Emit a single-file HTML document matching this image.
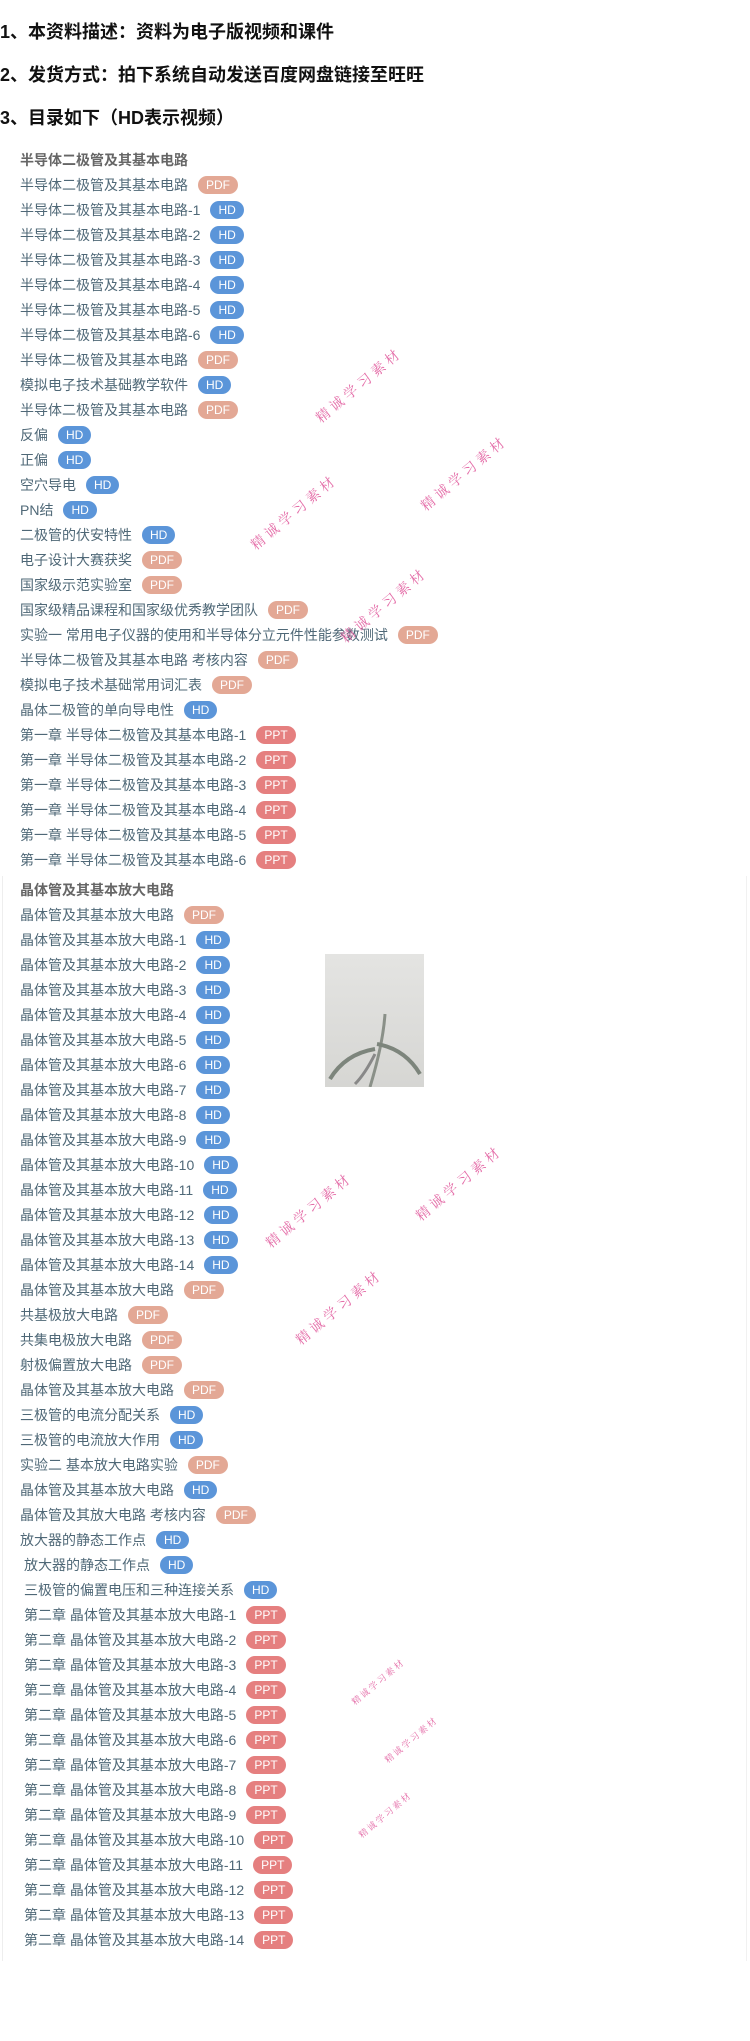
<!DOCTYPE html>
<html><head><meta charset="utf-8"><style>
body{margin:0;width:750px;height:2041px;background:#fff;position:relative;overflow:hidden;font-family:"Liberation Sans","Noto Sans CJK SC",sans-serif}
.h{position:absolute;left:0;font-weight:bold;font-size:18px;color:#111;line-height:24px}
.r{position:absolute;height:25px;line-height:25px;font-size:14px;color:#4f6877;white-space:nowrap;display:flex;align-items:center}
.t{font-weight:bold;color:#666}
.b{display:inline-block;height:18px;line-height:18px;border-radius:9px;color:#fff;font-size:12px;padding:0 8px;margin-left:10px}
.P{background:#e3a895}.H{background:#5b95d9}.T{background:#e57f7f}
.w{position:absolute;color:#e0559a;font-size:14px;transform:rotate(-40deg);white-space:nowrap;font-family:"Noto Serif CJK SC",serif;letter-spacing:4px;opacity:.85}
.ws{font-size:9px;letter-spacing:2px}
.box{position:absolute;left:2px;top:876px;width:743px;height:1085px;border-left:1px solid #eee;border-right:1px solid #f1f1f1}
</style></head><body>
<div class="h" style="top:20px">1、本资料描述：资料为电子版视频和课件</div>
<div class="h" style="top:63px">2、发货方式：拍下系统自动发送百度网盘链接至旺旺</div>
<div class="h" style="top:106px">3、目录如下（HD表示视频）</div>
<div class="box"></div>
<div id="s1"></div>
<div style="position:absolute;left:325px;top:954px;width:99px;height:133px;background:linear-gradient(#e4e4e2,#d6d6d3)">
<svg width="99" height="133"><path d="M60 60 Q58 90 45 133" stroke="#8a9088" stroke-width="3" fill="none"/><path d="M50 95 Q20 100 5 125" stroke="#7d857c" stroke-width="4" fill="none"/><path d="M52 90 Q80 95 95 120" stroke="#7d857c" stroke-width="4" fill="none"/><path d="M50 100 Q40 120 30 130" stroke="#888" stroke-width="3" fill="none"/></svg></div>
<div class="w" style="left:305px;top:375px">精诚学习素材</div>
<div class="w" style="left:240px;top:502px">精诚学习素材</div>
<div class="w" style="left:410px;top:463px">精诚学习素材</div>
<div class="w" style="left:330px;top:595px">精诚学习素材</div>
<div class="w" style="left:255px;top:1200px">精诚学习素材</div>
<div class="w" style="left:405px;top:1173px">精诚学习素材</div>
<div class="w" style="left:285px;top:1297px">精诚学习素材</div>
<div class="w ws" style="left:345px;top:1675px">精诚学习素材</div>
<div class="w ws" style="left:378px;top:1733px">精诚学习素材</div>
<div class="w ws" style="left:352px;top:1808px">精诚学习素材</div>
<script>
var s1=[["半导体二极管及其基本电路",""],["半导体二极管及其基本电路","P"]];
for(var i=1;i<=6;i++)s1.push(["半导体二极管及其基本电路-"+i,"H"]);
s1=s1.concat([["半导体二极管及其基本电路","P"],["模拟电子技术基础教学软件","H"],["半导体二极管及其基本电路","P"],["反偏","H"],["正偏","H"],["空穴导电","H"],["PN结","H"],["二极管的伏安特性","H"],["电子设计大赛获奖","P"],["国家级示范实验室","P"],["国家级精品课程和国家级优秀教学团队","P"],["实验一 常用电子仪器的使用和半导体分立元件性能参数测试","P"],["半导体二极管及其基本电路 考核内容","P"],["模拟电子技术基础常用词汇表","P"],["晶体二极管的单向导电性","H"]]);
for(i=1;i<=6;i++)s1.push(["第一章 半导体二极管及其基本电路-"+i,"T"]);
var s2=[["晶体管及其基本放大电路",""],["晶体管及其基本放大电路","P"]];
for(i=1;i<=14;i++)s2.push(["晶体管及其基本放大电路-"+i,"H"]);
s2=s2.concat([["晶体管及其基本放大电路","P"],["共基极放大电路","P"],["共集电极放大电路","P"],["射极偏置放大电路","P"],["晶体管及其基本放大电路","P"],["三极管的电流分配关系","H"],["三极管的电流放大作用","H"],["实验二 基本放大电路实验","P"],["晶体管及其基本放大电路","H"],["晶体管及其放大电路 考核内容","P"],["放大器的静态工作点","H"],["放大器的静态工作点","H",1],["三极管的偏置电压和三种连接关系","H",1]]);
for(i=1;i<=14;i++)s2.push(["第二章 晶体管及其基本放大电路-"+i,"T",1]);
var L={P:"PDF",H:"HD",T:"PPT"},h="";
function g(a,top){a.forEach(function(e,k){var y=top+k*25-12.5;h+='<div class="r'+(e[1]?'':' t')+'" style="top:'+y+'px;left:'+(e[2]?24:20)+'px">'+e[0]+(e[1]?'<span class="b '+e[1]+'">'+L[e[1]]+'</span>':'')+'</div>';});}
g(s1,160);g(s2,890);
document.getElementById("s1").innerHTML=h;
</script>
</body></html>
